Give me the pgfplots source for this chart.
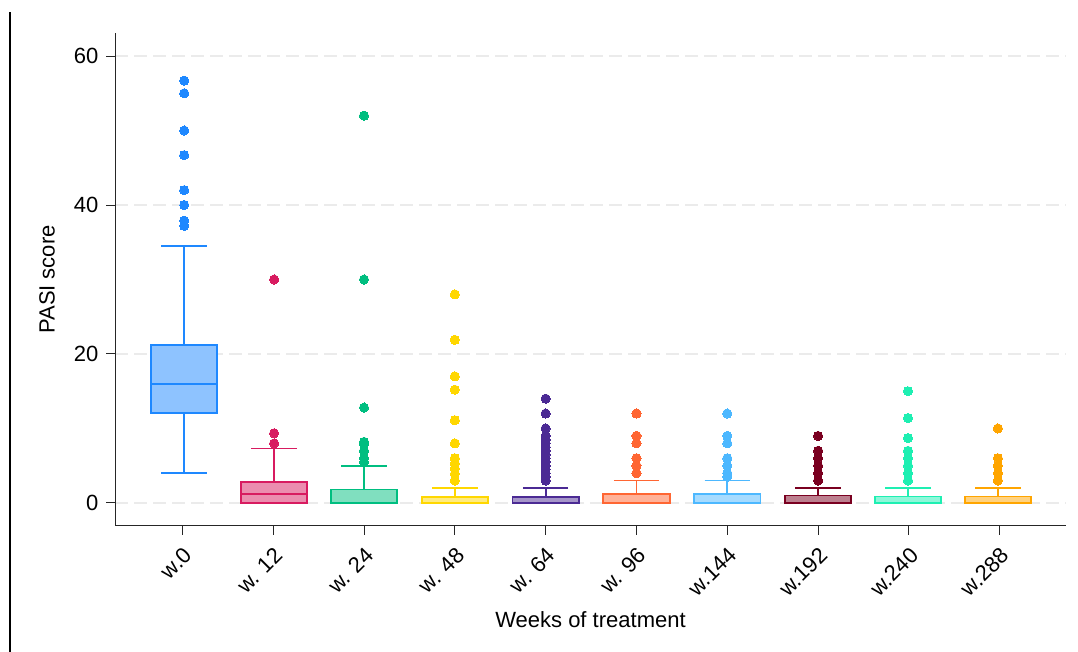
\documentclass[border=0pt]{standalone}
\usepackage{pgfplots}
\pgfplotsset{compat=1.18}
\usepgfplotslibrary{statistics}
\usepackage{fontspec}
\setmainfont{Liberation Sans}
\definecolor{c0}{HTML}{1E88FF}
\definecolor{c1}{HTML}{D81B60}
\definecolor{c2}{HTML}{00BE80}
\definecolor{c3}{HTML}{FFD700}
\definecolor{c4}{HTML}{4B2A94}
\definecolor{c5}{HTML}{FF6633}
\definecolor{c6}{HTML}{4DB8FF}
\definecolor{c7}{HTML}{7A0020}
\definecolor{c8}{HTML}{1EEFB2}
\definecolor{c9}{HTML}{FFA500}
\definecolor{gridc}{HTML}{EBEBEB}
\pgfplotsset{
  bx/.style={draw=#1, fill=#1!50!white, line width=0.9pt, mark=*, mark size=2.3pt,
    mark options={draw=#1, fill=#1, line width=0pt, solid}},
}
\begin{document}
\fontsize{11}{13}\selectfont
\begin{tikzpicture}
\useasboundingbox (0,0) rectangle (539pt,326pt);
\draw[line width=0.7pt, black] (5pt,0) -- (5pt,320pt);
\begin{axis}[
  at={(57.5pt,63pt)}, anchor=south west,
  scale only axis, width=475.5pt, height=246.5pt,
  xmin=-0.742, xmax=9.73, ymin=-3.1, ymax=63.1,
  axis x line*=bottom, axis y line*=left,
  axis line style={line width=0.5pt, black!85},
  tick style={line width=0.5pt, black!85},
  tick align=outside, major tick length=4.5pt,
  xtick={0,...,9},
  xticklabels={w.0,w. 12,w. 24,w. 48,w. 64,w. 96,w.144,w.192,w.240,w.288},
  x tick label style={rotate=45, anchor=north east, font=\fontsize{11}{13}\selectfont},
  ytick={0,20,40,60},
  y tick label style={font=\fontsize{11}{13}\selectfont},
  /pgf/number format/assume math mode=true,
  ymajorgrids, grid style={gridc, line width=0.65pt, dash pattern=on 6.5pt off 3pt},
  xlabel={Weeks of treatment},
  xlabel style={at={(axis description cs:0.5,-0.1907)}, anchor=center, font=\fontsize{11}{13}\selectfont},
  ylabel={PASI score},
  ylabel style={at={(axis description cs:-0.0715,0.5)}, anchor=center, font=\fontsize{11}{13}\selectfont},
  boxplot/draw direction=y,
  boxplot/box extend=0.73, boxplot/whisker extend=0.5,
]
\addplot[bx=c0, boxplot prepared={draw position=0.02, median=16, upper quartile=21.25, lower quartile=12.1, upper whisker=34.5, lower whisker=4.0}]
  table[row sep=\\, y index=0] {v\\ 56.7\\ 55.0\\ 50.0\\ 46.7\\ 42.0\\ 40.0\\ 37.9\\ 37.2\\};
\addplot[bx=c1, boxplot prepared={draw position=1.01, median=1.2, upper quartile=2.85, lower quartile=0, upper whisker=7.3, lower whisker=0}]
  table[row sep=\\, y index=0] {v\\ 30\\ 9.35\\ 8.0\\};
\addplot[bx=c2, boxplot prepared={draw position=2, median=0, upper quartile=1.8, lower quartile=0, upper whisker=5, lower whisker=0}]
  table[row sep=\\, y index=0] {v\\ 52\\ 30\\ 12.8\\ 8.2\\ 7.9\\ 7.0\\ 6.0\\ 5.5\\};
\addplot[bx=c3, boxplot prepared={draw position=3, median=0, upper quartile=0.76, lower quartile=0, upper whisker=2, lower whisker=0}]
  table[row sep=\\, y index=0] {v\\ 28\\ 21.9\\ 17.0\\ 15.2\\ 11.1\\ 8.0\\ 6.0\\ 5.3\\ 4.6\\ 3.9\\ 3.0\\};
\addplot[bx=c4, boxplot prepared={draw position=4, median=0, upper quartile=0.75, lower quartile=0, upper whisker=2, lower whisker=0}]
  table[row sep=\\, y index=0] {v\\ 14\\ 12\\ 10\\ 9\\ 8.5\\ 8\\ 7.5\\ 7\\ 6.5\\ 6\\ 5.5\\ 5\\ 4.5\\ 4\\ 3.5\\ 3\\};
\addplot[bx=c5, boxplot prepared={draw position=5, median=0, upper quartile=1.2, lower quartile=0, upper whisker=3, lower whisker=0}]
  table[row sep=\\, y index=0] {v\\ 12\\ 9\\ 8\\ 6\\ 5\\ 4\\};
\addplot[bx=c6, boxplot prepared={draw position=6, median=0, upper quartile=1.2, lower quartile=0, upper whisker=3, lower whisker=0}]
  table[row sep=\\, y index=0] {v\\ 12\\ 9\\ 8\\ 6\\ 5\\ 4\\ 3.5\\};
\addplot[bx=c7, boxplot prepared={draw position=7, median=0, upper quartile=1.0, lower quartile=0, upper whisker=2, lower whisker=0}]
  table[row sep=\\, y index=0] {v\\ 9\\ 7\\ 6\\ 5\\ 4\\ 3\\};
\addplot[bx=c8, boxplot prepared={draw position=7.99, median=0, upper quartile=0.85, lower quartile=0, upper whisker=2, lower whisker=0}]
  table[row sep=\\, y index=0] {v\\ 15\\ 11.4\\ 8.7\\ 7\\ 6\\ 5\\ 4\\ 3\\};
\addplot[bx=c9, boxplot prepared={draw position=8.98, median=0, upper quartile=0.85, lower quartile=0, upper whisker=2, lower whisker=0}]
  table[row sep=\\, y index=0] {v\\ 10\\ 6\\ 5\\ 4\\ 3\\};
\end{axis}
\end{tikzpicture}
\end{document}
